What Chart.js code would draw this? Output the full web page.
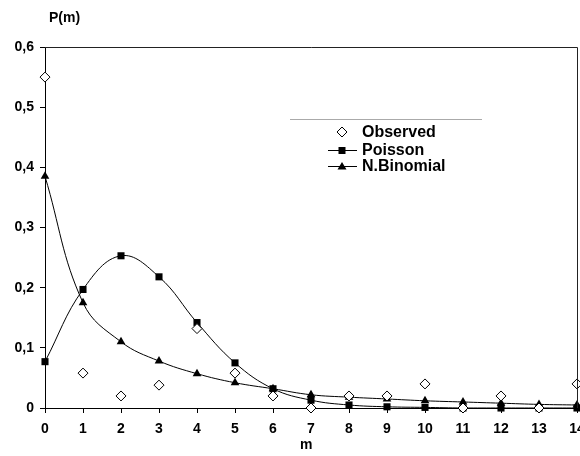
<!DOCTYPE html>
<html>
<head>
<meta charset="utf-8">
<script src="https://cdn.jsdelivr.net/npm/chart.js@4.4.1/dist/chart.umd.min.js"></script>
<style>
html,body{margin:0;padding:0;background:#fff;overflow:hidden;width:580px;height:456px;}
#wrap{width:600px;height:456px;}
</style>
</head>
<body>
<div id="wrap"><canvas id="c" width="600" height="456"></canvas></div>
<script>
const mValues = [0,1,2,3,4,5,6,7,8,9,10,11,12,13,14];
const observed = [0.55,0.058,0.02,0.038,0.132,0.058,0.02,0,0.02,0.02,0.04,0,0.02,0,0.04];
const poisson = [0.077,0.197,0.253,0.218,0.142,0.075,0.032,0.013,0.005,0.002,0.001,0,0,0,0];
const nBinomial = [0.385,0.175,0.11,0.078,0.057,0.042,0.032,0.022,0.018,0.015,0.012,0.01,0.008,0.006,0.005];
const yTicks = [0,0.1,0.2,0.3,0.4,0.5,0.6];
const seriesNames = ['Observed','Poisson','N.Binomial'];
const yTitle = 'P(m)';
const xTitle = 'm';

const toPts = arr => mValues.map((m,i)=>({x:m,y:arr[i]}));
const FONT = 'Liberation Sans, Arial, sans-serif';

const overlay = {
  id:'overlay',
  afterDraw(chart){
    const ctx = chart.ctx, a = chart.chartArea;
    ctx.save();
    ctx.strokeStyle = '#222'; ctx.lineWidth = 1;
    ctx.beginPath();
    ctx.moveTo(a.left, a.top+0.5); ctx.lineTo(a.right+0.5, a.top+0.5);
    ctx.lineTo(a.right+0.5, a.bottom);
    ctx.stroke();
    ctx.fillStyle = '#000';
    ctx.font = 'bold 14px ' + FONT;
    ctx.textBaseline = 'middle';
    ctx.textAlign = 'left';
    ctx.fillText(yTitle, 49, 18);
    ctx.fillText(xTitle, 300, 445);
    ctx.strokeStyle = '#aaa';
    ctx.beginPath(); ctx.moveTo(290,119.5); ctx.lineTo(482,119.5); ctx.stroke();
    ctx.font = 'bold 16px ' + FONT;
    const rows = [132,150,166];
    ctx.fillStyle = '#000';
    seriesNames.forEach((n,i)=>ctx.fillText(n, 362, rows[i]+1));
    ctx.strokeStyle = '#000'; ctx.fillStyle = '#fff';
    ctx.beginPath();
    ctx.moveTo(342, rows[0]-5); ctx.lineTo(347, rows[0]); ctx.lineTo(342, rows[0]+5); ctx.lineTo(337, rows[0]); ctx.closePath();
    ctx.fill(); ctx.stroke();
    ctx.beginPath(); ctx.moveTo(328, rows[1]+0.5); ctx.lineTo(357, rows[1]+0.5); ctx.stroke();
    ctx.fillStyle = '#000';
    ctx.fillRect(338.5, rows[1]-3, 7, 7);
    ctx.beginPath(); ctx.moveTo(328, rows[2]+0.5); ctx.lineTo(357, rows[2]+0.5); ctx.stroke();
    ctx.beginPath(); ctx.moveTo(342, rows[2]-4); ctx.lineTo(346.5, rows[2]+3.5); ctx.lineTo(337.5, rows[2]+3.5); ctx.closePath(); ctx.fill();
    ctx.restore();
  }
};

new Chart(document.getElementById('c'), {
  type:'scatter',
  data:{
    datasets:[
      {label:seriesNames[0], data:toPts(observed), showLine:false, clip:false, pointStyle:'rectRot', pointRadius:5, pointHoverRadius:5,
       backgroundColor:'#fff', borderColor:'#000', borderWidth:1},
      {label:seriesNames[1], data:toPts(poisson), showLine:true, clip:false, tension:0.4, pointStyle:'rect', pointRadius:5, pointHoverRadius:5,
       backgroundColor:'#000', borderColor:'#000', borderWidth:1, pointBorderWidth:0},
      {label:seriesNames[2], data:toPts(nBinomial), showLine:true, clip:false, tension:0.4, pointStyle:'triangle', pointRadius:5, pointHoverRadius:5,
       backgroundColor:'#000', borderColor:'#000', borderWidth:1, pointBorderWidth:0}
    ]
  },
  options:{
    responsive:false, animation:false,
    layout:{padding:{top:47,right:23,left:0,bottom:0}},
    plugins:{legend:{display:false}, tooltip:{enabled:false}},
    scales:{
      x:{type:'linear', min:0, max:14,
         afterFit(s){ s.height = 48; },
         ticks:{stepSize:1, color:'#000', padding:8, maxRotation:0, autoSkip:false, font:{family:FONT, size:14, weight:'bold'}},
         grid:{drawOnChartArea:false, drawTicks:true, tickLength:5, color:'#000'},
         border:{color:'#000'}},
      y:{min:0, max:0.6,
         afterFit(s){ s.width = 45; },
         afterBuildTicks(s){ s.ticks = yTicks.map(v=>({value:v})); },
         ticks:{color:'#000', padding:6, font:{family:FONT, size:14, weight:'bold'},
                callback:v => v===0 ? '0' : v.toFixed(1).replace('.',',')},
         grid:{drawOnChartArea:false, drawTicks:true, tickLength:5, color:'#000'},
         border:{color:'#000'}}
    }
  },
  plugins:[overlay]
});
</script>
</body>
</html>
